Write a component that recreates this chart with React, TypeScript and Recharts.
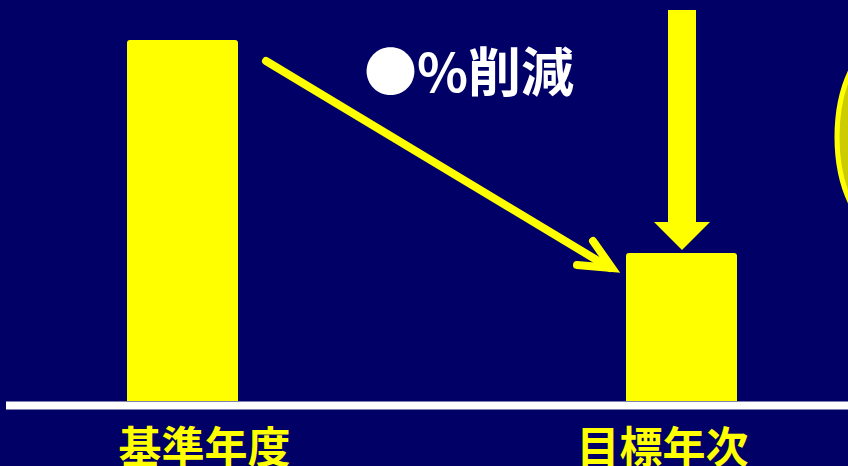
import { BarChart, Bar, XAxis, YAxis } from "recharts";

const categories = ["基準年度", "目標年次"];
const emissions = [100, 41];
const reductionLabel = "●%削減";

const data = categories.map((name, i) => ({ name, value: emissions[i] }));

const NAVY = "#000066";
const YELLOW = "#ffff00";
const FONT = '"Noto Sans CJK JP", "Noto Sans", sans-serif';

// labels sit a little toward the middle of the chart
const TICK_SHIFT = [22, -19];

function CategoryTick(props: any) {
    const { x, y, payload, index } = props;
    return (
        <text
            x={x + (TICK_SHIFT[index] || 0)}
            y={y}
            dy={62}
            textAnchor="middle"
            fill={YELLOW}
            fontSize={43}
            fontWeight={700}
            fontFamily={FONT}
        >
            {payload.value}
        </text>
    );
}

export default function App() {
    return (
        <div
            style={{
                position: "relative",
                width: 848,
                height: 466,
                overflow: "hidden",
                background: NAVY,
            }}
        >
            <style>{"body{margin:0}"}</style>
            <BarChart
                width={848}
                height={466}
                data={data}
                margin={{ top: 40, right: -83, left: -67, bottom: 0 }}
                barSize={111}
            >
                <XAxis
                    dataKey="name"
                    height={65}
                    tickLine={false}
                    tickSize={0}
                    tickMargin={0}
                    axisLine={{ stroke: "#ffffff", strokeWidth: 8, transform: "translate(0 4.5)" }}
                    tick={<CategoryTick />}
                    interval={0}
                />
                <YAxis hide domain={[0, 100]} />
                <Bar
                    dataKey="value"
                    fill={YELLOW}
                    radius={[3, 3, 0, 0]}
                    isAnimationActive={false}
                />
            </BarChart>
            <svg
                width={848}
                height={466}
                style={{ position: "absolute", left: 0, top: 0, pointerEvents: "none" }}
            >
                {/* baseline begins a few px in from the left edge */}
                <rect x={0} y={399} width={6} height={12} fill={NAVY} />
                {/* diagonal arrow from base year toward target */}
                <line x1={266} y1={61} x2={610} y2={268} stroke={YELLOW} strokeWidth={8} strokeLinecap="round" />
                <polyline
                    points="577,265 612,268 593,241"
                    fill="none"
                    stroke={YELLOW}
                    strokeWidth={8}
                    strokeLinecap="round"
                    strokeLinejoin="miter"
                />
                {/* downward arrow onto target bar */}
                <polygon points="668,10 696,10 696,222 710,222 682,250 654,222 668,222" fill={YELLOW} />
                {/* partial ellipse at right edge */}
                <ellipse cx={897} cy={137} rx={60} ry={104} fill="#cccc00" stroke={YELLOW} strokeWidth={5} />
                <text x={364} y={92} fill="#ffffff" fontSize={53} fontWeight={700} fontFamily={FONT}>
                    {reductionLabel}
                </text>
            </svg>
        </div>
    );
}
